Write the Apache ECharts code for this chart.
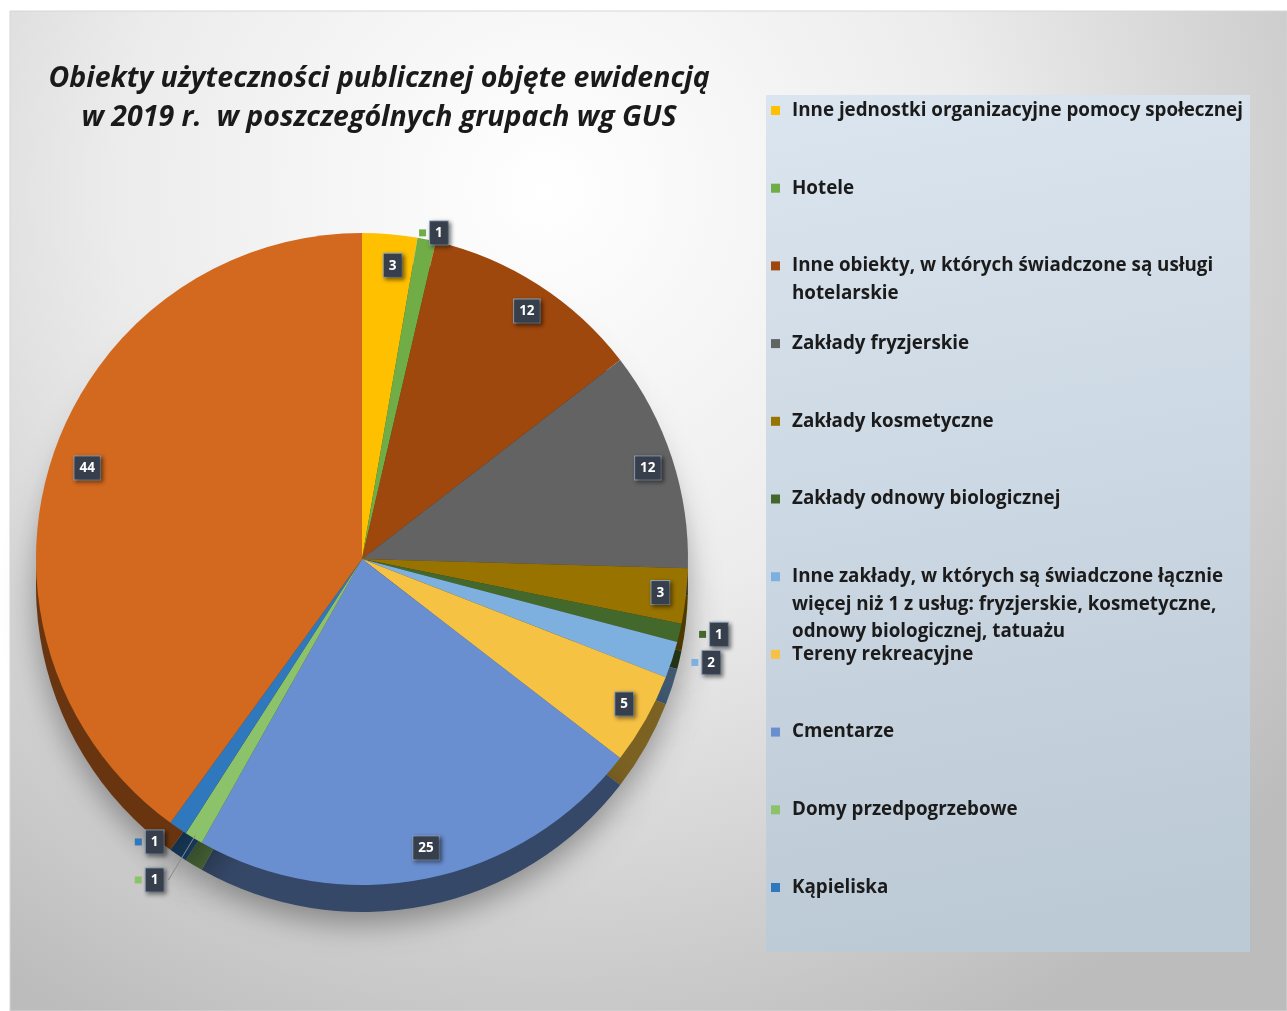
<!DOCTYPE html>
<html><head><meta charset="utf-8">
<script src="https://cdn.jsdelivr.net/npm/echarts@6/dist/echarts.min.js"></script>
<style>html,body{margin:0;padding:0;background:#fff}#c{width:1287px;height:1011px}</style>
</head><body><div id="c"></div>
<script>
// ---- data ----
const titleText = 'Obiekty użyteczności publicznej objęte ewidencją\nw 2019 r.  w poszczególnych grupach wg GUS';
const legendLines = [
  ['Inne jednostki organizacyjne pomocy społecznej'],
  ['Hotele'],
  ['Inne obiekty, w których świadczone są usługi', 'hotelarskie'],
  ['Zakłady fryzjerskie'],
  ['Zakłady kosmetyczne'],
  ['Zakłady odnowy biologicznej'],
  ['Inne zakłady, w których są świadczone łącznie', 'więcej niż 1 z usług: fryzjerskie, kosmetyczne,', 'odnowy biologicznej, tatuażu'],
  ['Tereny rekreacyjne'],
  ['Cmentarze'],
  ['Domy przedpogrzebowe'],
  ['Kąpieliska']
];
const categories = legendLines.map(l => l.join(' ')).concat(['']);
const values = [3, 1, 12, 12, 3, 1, 2, 5, 25, 1, 1, 44];
const colors = ['#FFC000', '#70AD47', '#9E480E', '#636363', '#997300', '#43682B', '#7EB0DF', '#F6C244', '#6A8FD0', '#8CC36A', '#2F78BE', '#D2691F'];

// ---- styling / placement config ----
const CX = 362, CY = 559, R = 326;
const outside = {
  1: { length: 10, length2: -14, line: false },
  5: { length: 10, length2: 8, line: false },
  6: { length: 12, length2: 6, line: false },
  9: { length: 52, length2: 0, line: true },
  10: { length: 20, length2: 0, line: false }
};
function darken(hex, f) {
  const n = parseInt(hex.slice(1), 16);
  const r = Math.round(((n >> 16) & 255) * f), g = Math.round(((n >> 8) & 255) * f), b = Math.round((n & 255) * f);
  return 'rgb(' + r + ',' + g + ',' + b + ')';
}
const FONT = 'Open Sans';
const labelRich = {
  g: { width: 4 },
  v: {
    color: '#ffffff', fontWeight: 'bold', fontSize: 13.5, fontFamily: FONT,
    backgroundColor: '#363f4b', borderColor: '#8ea3bb', borderWidth: 1,
    padding: [5, 5, 4, 5], shadowBlur: 4, shadowColor: 'rgba(0,0,0,0.45)', shadowOffsetX: 2, shadowOffsetY: 2
  }
};
colors.forEach((c, i) => { labelRich['k' + i] = { width: 7, height: 7, backgroundColor: c }; });

const mainData = categories.map((n, i) => ({ name: n, value: values[i], itemStyle: { color: colors[i] } }));
const sideData = categories.map((n, i) => ({ name: n, value: values[i], itemStyle: { color: darken(colors[i], 0.5) } }));
const labelData = categories.map((n, i) => {
  const o = outside[i];
  return {
    name: n, value: values[i],
    itemStyle: { color: 'rgba(0,0,0,0)' },
    label: { position: o ? 'outside' : 'inside' },
    labelLine: o ? { show: o.line, length: o.length, length2: o.length2, lineStyle: { color: '#8a8a8a', width: 1 } } : { show: false }
  };
});

const legends = legendLines.map((lines, i) => {
  const rich = {
    t: { fontSize: 18.8, fontWeight: 'bold', fontFamily: FONT, color: '#1b1b1b', lineHeight: 27.5 },
    g: { width: 12, lineHeight: 27.5 },
    ind: { width: 21, lineHeight: 27.5 },
    k: { width: 9, height: 9, backgroundColor: colors[i] }
  };
  return {
    data: [categories[i]],
    left: 766, top: 101 + i * 77.7,
    orient: 'vertical', icon: 'none', itemWidth: 0, itemHeight: 10, padding: 0,
    selectedMode: false,
    formatter: () => lines.map((l, j) => (j === 0 ? '{k|}{g|}' : '{ind|}') + '{t|' + l + '}').join('\n'),
    textStyle: { rich: rich }
  };
});

const chart = echarts.init(document.getElementById('c'), null, { renderer: 'canvas' });
chart.setOption({
  backgroundColor: '#ffffff',
  animation: false,
  title: {
    text: titleText, left: 374, top: 54, textAlign: 'center',
    textStyle: { fontSize: 28.5, fontWeight: 'bold', fontStyle: 'italic', fontFamily: FONT, color: '#1a1a1a', lineHeight: 39 }
  },
  legend: legends,
  graphic: [
    {
      type: 'rect', z: -100, silent: true,
      shape: { x: 10, y: 11, width: 1277, height: 1000 },
      style: {
        fill: { type: 'radial', x: 0.42, y: 0.18, r: 0.95, colorStops: [
          { offset: 0, color: '#ffffff' }, { offset: 0.45, color: '#ececec' }, { offset: 1, color: '#bcbcbc' }] },
        stroke: '#d6d6d6', lineWidth: 1
      }
    },
    {
      type: 'rect', z: -90, silent: true,
      shape: { x: 766, y: 95, width: 484, height: 857 },
      style: {
        fill: { type: 'linear', x: 0, y: 0, x2: 0.3, y2: 1, colorStops: [
          { offset: 0, color: '#dbe5ef' }, { offset: 1, color: '#bccad6' }] }
      }
    }
  ],
  series: [
    {
      name: 'main', type: 'pie', z: 3, center: [CX, CY], radius: R,
      startAngle: 90, clockwise: true, avoidLabelOverlap: false,
      label: { show: false }, labelLine: { show: false },
      emphasis: { scale: false }, data: mainData
    },
    {
      name: 'side', type: 'pie', z: 2, silent: true, center: [CX, CY + 27], radius: R,
      startAngle: 90, clockwise: true,
      label: { show: false }, labelLine: { show: false },
      itemStyle: { shadowBlur: 30, shadowColor: 'rgba(0,0,0,0.35)', shadowOffsetY: 12 },
      emphasis: { disabled: true }, data: sideData
    },
    {
      name: 'labels', type: 'pie', z: 4, silent: true, center: [CX, CY], radius: [R * 0.8, R * 0.99],
      startAngle: 90, clockwise: true, avoidLabelOverlap: false,
      label: {
        show: true,
        formatter: p => '{k' + p.dataIndex + '|}{g|}{v|' + p.value + '}',
        rich: labelRich
      },
      emphasis: { disabled: true }, data: labelData
    }
  ]
});
</script></body></html>
